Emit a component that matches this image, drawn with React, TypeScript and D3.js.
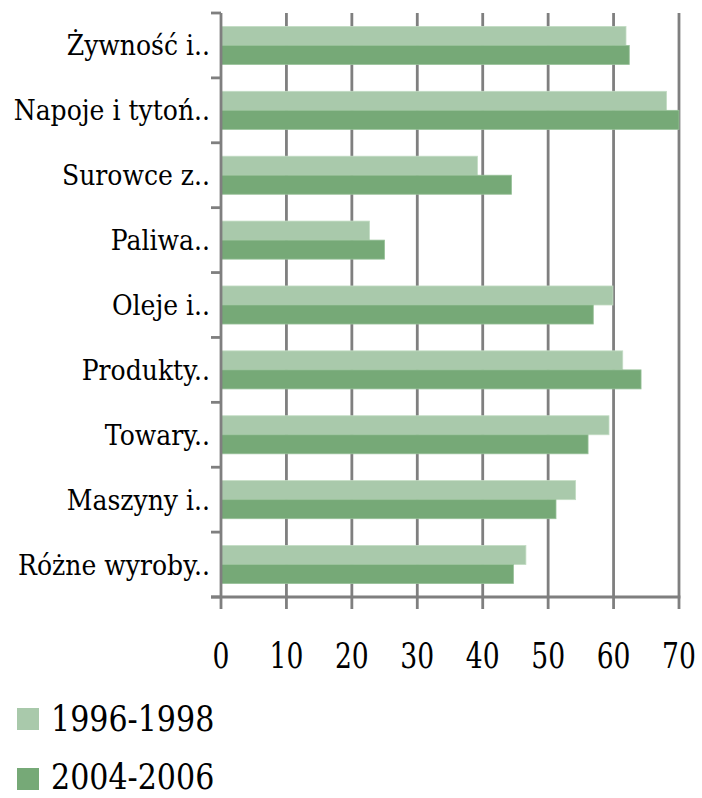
import React from "react";
import * as d3 from "d3";

const categories = [
  "Żywność i..",
  "Napoje i tytoń..",
  "Surowce z..",
  "Paliwa..",
  "Oleje i..",
  "Produkty..",
  "Towary..",
  "Maszyny i..",
  "Różne wyroby..",
];
const seriesNames = ["1996-1998", "2004-2006"];
const values1996 = [61.9, 68.1, 39.2, 22.7, 59.9, 61.4, 59.3, 54.2, 46.6];
const values2004 = [62.4, 70.0, 44.4, 25.0, 56.9, 64.2, 56.1, 51.2, 44.7];
const xTicks = [0, 10, 20, 30, 40, 50, 60, 70];
const colors = ["#a9c9ab", "#76a977"];

const W = 702;
const H = 798;
const left = 221;
const right = 679;
const top = 13;
const bottom = 597;
const grid = "#7f7f7f";
const font = "'DejaVu Serif', serif";

export default function App() {
  const x = d3.scaleLinear().domain([0, 70]).range([left, right]);
  const y = d3.scaleBand<string>().domain(categories).range([top, bottom]).padding(0);
  const inner = d3
    .scaleBand<string>()
    .domain(seriesNames)
    .range([0, y.bandwidth()])
    .paddingInner(0)
    .paddingOuter(0.705);
  const series = [values1996, values2004];
  const boundaries = d3.range(categories.length + 1).map((i) => top + i * y.step());
  const ts = { fontFamily: font };

  return (
    <svg
      width={W}
      height={H}
      style={{ position: "absolute", left: 0, top: 0, background: "#fff" }}
    >
      {xTicks.slice(1).map((t) => (
        <line key={"g" + t} x1={x(t)} x2={x(t)} y1={top} y2={bottom} stroke={grid} strokeWidth={2.8} />
      ))}
      {categories.map((c, i) => (
        <g key={c}>
          {series.map((vals, s) => (
            <rect
              key={s}
              x={x(0)}
              y={(y(c) as number) + (inner(seriesNames[s]) as number)}
              width={x(vals[i]) - x(0)}
              height={inner.bandwidth()}
              fill={colors[s]}
              stroke={s === 0 ? "#c3dcc4" : "#98c199"}
              strokeWidth={0.8}
            />
          ))}
        </g>
      ))}
      <line x1={left} x2={left} y1={top} y2={bottom} stroke={grid} strokeWidth={2.8} />
      {boundaries.map((b, i) => (
        <line key={"yt" + i} x1={left - 10} x2={left} y1={b} y2={b} stroke={grid} strokeWidth={2.8} />
      ))}
      <line x1={left - 10} x2={right + 1.4} y1={bottom} y2={bottom} stroke={grid} strokeWidth={2.8} />
      {xTicks.map((t) => (
        <line key={"xt" + t} x1={x(t)} x2={x(t)} y1={bottom} y2={bottom + 12} stroke={grid} strokeWidth={2.8} />
      ))}
      {xTicks.map((t) => (
        <text
          key={"xl" + t}
          transform={`translate(${x(t)},668) scale(0.76,1)`}
          textAnchor="middle"
          fontSize={35}
          fill="#000"
          style={ts}
        >
          {t}
        </text>
      ))}
      {categories.map((c) => (
        <text
          key={"cl" + c}
          transform={`translate(210,${(y(c) as number) + y.bandwidth() / 2 + 10}) scale(0.93,1)`}
          textAnchor="end"
          fontSize={27}
          fill="#000"
          style={ts}
        >
          {c}
        </text>
      ))}
      {seriesNames.map((s, i) => (
        <g key={"lg" + s}>
          <rect x={17} y={708 + i * 60} width={22} height={22} fill={colors[i]} />
          <text
            transform={`translate(51,${731 + i * 58}) scale(0.86,1)`}
            fontSize={35}
            fill="#000"
            style={ts}
          >
            {s}
          </text>
        </g>
      ))}
    </svg>
  );
}
